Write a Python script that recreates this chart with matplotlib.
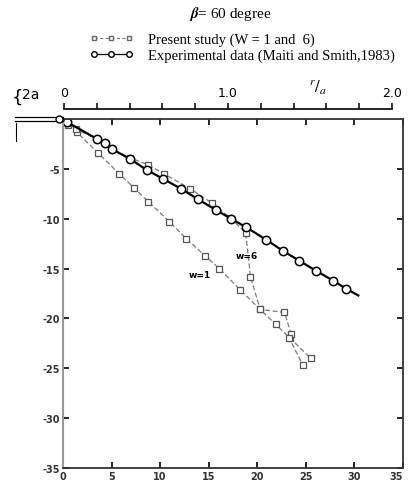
import numpy as np
import matplotlib.pyplot as plt
from matplotlib.lines import Line2D

# experimental data (Maiti and Smith, 1983)
exp_x = [0.0, 0.4, 3.5, 4.3, 5.0, 6.9, 8.6, 10.3, 12.15, 13.9, 15.7, 17.3, 18.85,
         20.9, 22.6, 24.3, 26.0, 27.8, 29.1, 30.4]
exp_y = [0.0, -0.3, -2.0, -2.45, -3.0, -4.0, -5.1, -6.0, -7.0, -8.05, -9.1, -10.0, -10.85,
         -12.1, -13.2, -14.2, -15.2, -16.2, -17.0, -17.7]
exp_marker = [True] * 19 + [False]

# present study, W = 1
w1_x = [0.0, 0.55, 1.4, 3.6, 5.8, 7.3, 8.8, 10.95, 12.7, 14.6, 16.1, 18.2, 20.3, 21.9, 23.4, 25.5]
w1_y = [0.0, -0.65, -1.3, -3.4, -5.5, -6.9, -8.3, -10.3, -12.0, -13.7, -15.0, -17.1, -19.1,
        -20.6, -22.0, -24.0]

# present study, W = 6
w6_x = [0.0, 0.5, 1.3, 3.5, 5.0, 6.9, 8.8, 10.4, 13.1, 15.3, 17.2, 18.8, 19.3, 20.3, 22.8,
        23.5, 23.3, 24.7]
w6_y = [0.0, -0.45, -1.0, -2.0, -3.0, -3.9, -4.6, -5.5, -7.0, -8.4, -9.9, -11.4, -15.8,
        -19.1, -19.4, -21.6, -22.0, -24.7]

plt.rcParams['mathtext.fontset'] = 'stix'
plt.rcParams['axes.unicode_minus'] = False
serif = ['Liberation Serif', 'DejaVu Serif']

fig = plt.figure(figsize=(4.08, 4.85), dpi=100)
W, H = 408.0, 485.0
ax = fig.add_axes([63 / W, 1 - 469 / H, 340 / W, 349 / H])

gray = '#7a7a7a'
ax.plot(w1_x, w1_y, ls=(0, (4, 2)), color=gray, lw=0.9, marker='s', ms=4.5,
        mfc='white', mec='#555555', mew=0.9)
ax.plot(w6_x, w6_y, ls=(0, (4, 2)), color=gray, lw=0.9, marker='s', ms=4.5,
        mfc='white', mec='#555555', mew=0.9)
ax.plot(exp_x, exp_y, color='black', lw=1.6)
ax.plot(np.array(exp_x)[exp_marker], np.array(exp_y)[exp_marker], ls='none',
        marker='o', ms=6, mfc='white', mec='black', mew=1.1)

ax.text(14.1, -15.6, 'w=1', fontsize=6.5, fontweight='bold', ha='center', va='center')
ax.text(18.9, -13.7, 'w=6', fontsize=6.5, fontweight='bold', ha='center', va='center')

ax.set_xlim(0, 35)
ax.set_ylim(-35, 0)
ax.set_xticks(np.arange(0, 36, 5))
ax.set_yticks([-35, -30, -25, -20, -15, -10, -5])
ax.tick_params(direction='in', top=True, right=True, labelsize=7, length=4, width=1.2,
               pad=2)
for lbl in ax.get_xticklabels() + ax.get_yticklabels():
    lbl.set_fontweight('bold')
    lbl.set_color('#333333')
ax.get_xticklabels()[-1].set_horizontalalignment('right')
for s in ['bottom', 'right', 'top']:
    ax.spines[s].set_linewidth(1.3)
    ax.spines[s].set_color('#333333')
ax.spines['left'].set_color('#999999')
ax.spines['left'].set_linewidth(1.5)

# r/a scale on top
ax2 = fig.add_axes([64 / W, 1 - 110 / H, 328 / W, 0.0001])
ax2.set_xlim(0, 2.0)
ax2.set_ylim(0, 1)
for s in ['left', 'right', 'bottom']:
    ax2.spines[s].set_visible(False)
ax2.spines['top'].set_linewidth(1.2)
ax2.set_yticks([])
ax2.xaxis.tick_top()
ax2.set_xticks(np.arange(0, 2.01, 0.2))
ax2.set_xticklabels(['0', '', '', '', '', '1.0', '', '', '', '', '2.0'])
ax2.tick_params(direction='out', length=4, width=1.1, labelsize=9, pad=3)
ax2.patch.set_visible(False)
fig.text(318 / W, 1 - 88 / H, r'$^{r}/_{a}$', fontsize=12, ha='center', va='center')

# plate at left
fig.add_artist(Line2D([15 / W, 63 / W], [1 - 118 / H, 1 - 118 / H], color='black', lw=0.9))
fig.add_artist(Line2D([15 / W, 63 / W], [1 - 122 / H, 1 - 122 / H], color='black', lw=0.9))
fig.add_artist(Line2D([59 / W], [1 - 120 / H], marker='o', ms=5, mfc='white', mec='black',
                      mew=1.0))
fig.text(12 / W, 1 - 98 / H, '{', fontsize=13, ha='left', va='center')
fig.text(22 / W, 1 - 95 / H, '2a', fontsize=10, ha='left', va='center')
fig.add_artist(Line2D([16 / W, 16 / W], [1 - 124 / H, 1 - 142 / H], color='black', lw=0.8))

# title and legend
fig.text(230 / W, 1 - 14 / H, r'$\boldsymbol{\beta}$= 60 degree', fontsize=11,
         family=serif, ha='center', va='center')
h1 = Line2D([], [], ls=(0, (3, 2)), color=gray, lw=0.8, marker='s', ms=3, mfc='white',
            mec='#666666', markevery=[0, 1])
h2 = Line2D([], [], ls='-', color='black', lw=0.9, marker='o', ms=4, mfc='white',
            mec='black')
fig.legend([h1, h2], ['Present study (W = 1 and  6)',
                      'Experimental data (Maiti and Smith,1983)'],
           loc='upper left', bbox_to_anchor=(82 / W, 1 - 26 / H), frameon=False,
           prop={'family': serif, 'size': 10.5}, handlelength=3.0, handletextpad=1.0,
           labelspacing=0.2, borderpad=0, numpoints=3)

fig.savefig('out.png', dpi=100)
